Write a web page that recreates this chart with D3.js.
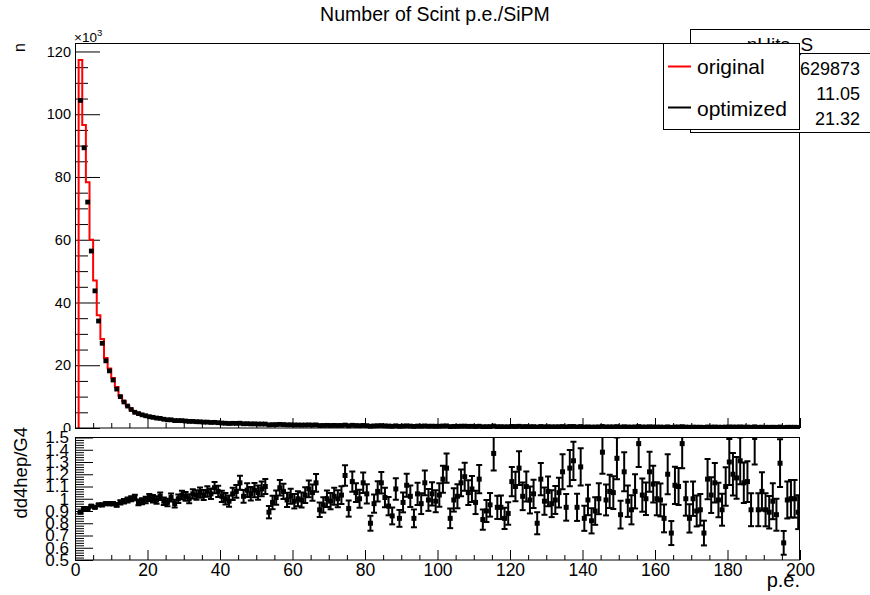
<!DOCTYPE html>
<html><head><meta charset="utf-8">
<script src="https://cdn.jsdelivr.net/npm/d3@7"></script>
<style>body{margin:0;background:#fff}svg{display:block}text{font-family:"Liberation Sans",Arial,Helvetica,sans-serif;fill:#000}</style>
</head><body><svg id="c" width="870" height="595"></svg>
<script>
// ---------------- data ----------------
const title = "Number of Scint p.e./SiPM";
const yTopTitle = "n";
const yBotTitle = "dd4hep/G4";
const xTitle = "p.e.";
const seriesNames = ["original", "optimized"];
const statsTitle = "nHits_S";
const statsValues = ["629873", "11.05", "21.32"];
const topTicks = [0, 20, 40, 60, 80, 100, 120];
const botTicks = [0.5, 0.6, 0.7, 0.8, 0.9, 1, 1.1, 1.2, 1.3, 1.4, 1.5];
const xTicks = [0, 20, 40, 60, 80, 100, 120, 140, 160, 180, 200];

// lower edges of filled bins (width 1), bins 1..199
const binLow = d3.range(1, 200);
// original (G4) counts, in units of 10^3
const original = [117.3, 96.6, 78.3, 60.0, 47.0, 35.9, 28.4, 22.3, 19.0, 15.9,
13.05, 10.3, 8.5, 7.07, 5.9, 4.95, 4.74, 4.29, 3.94, 3.56,
3.40, 3.20, 3.00, 2.85, 2.70, 2.58, 2.46, 2.36, 2.27, 2.18,
2.10, 2.02, 1.95, 1.88, 1.82, 1.76, 1.70, 1.65, 1.60, 1.55,
1.51, 1.47, 1.43, 1.39, 1.35, 1.32, 1.29, 1.26, 1.23, 1.20,
1.17, 1.14, 1.12, 1.10, 1.08, 1.06, 1.04, 1.02, 1.00, 0.98,
0.96, 0.94, 0.92, 0.91, 0.89, 0.88, 0.86, 0.85, 0.84, 0.82,
0.81, 0.80, 0.79, 0.78, 0.77, 0.76, 0.75, 0.74, 0.73, 0.72,
0.71, 0.70, 0.69, 0.68, 0.67, 0.665, 0.655, 0.645, 0.64, 0.63,
0.62, 0.61, 0.605, 0.595, 0.59, 0.58, 0.575, 0.565, 0.56, 0.555,
0.55, 0.54, 0.535, 0.53, 0.52, 0.515, 0.51, 0.505, 0.50, 0.495,
0.49, 0.485, 0.48, 0.475, 0.47, 0.465, 0.46, 0.455, 0.45, 0.445,
0.44, 0.436, 0.432, 0.428, 0.424, 0.42, 0.416, 0.412, 0.408, 0.404,
0.40, 0.396, 0.392, 0.388, 0.384, 0.38, 0.377, 0.374, 0.371, 0.368,
0.365, 0.362, 0.359, 0.356, 0.353, 0.35, 0.347, 0.344, 0.341, 0.338,
0.335, 0.332, 0.33, 0.327, 0.325, 0.322, 0.32, 0.317, 0.315, 0.312,
0.31, 0.308, 0.305, 0.303, 0.301, 0.299, 0.297, 0.295, 0.293, 0.291,
0.289, 0.287, 0.285, 0.283, 0.281, 0.279, 0.277, 0.275, 0.273, 0.271,
0.27, 0.268, 0.266, 0.264, 0.262, 0.261, 0.259, 0.257, 0.256, 0.254,
0.253, 0.251, 0.25, 0.248, 0.247, 0.245, 0.244, 0.243, 0.241];
// optimized (dd4hep) counts, in units of 10^3
const optimized = [104.4, 89.3, 72.0, 56.4, 43.7, 34.1, 27.0, 21.4, 18.2, 15.3,
12.4, 10.0, 8.3, 7.0, 5.9, 5.0, 4.6, 4.2, 3.9, 3.6,
3.40, 3.17, 3.06, 2.79, 2.62, 2.61, 2.36, 2.36, 2.34, 2.22,
2.10, 2.10, 2.01, 1.97, 1.87, 1.87, 1.77, 1.80, 1.70, 1.58,
1.51, 1.44, 1.49, 1.47, 1.53, 1.35, 1.38, 1.31, 1.32, 1.26,
1.26, 1.25, 1.00, 1.07, 1.09, 1.16, 1.10, 1.01, 1.02, 0.96,
0.96, 0.93, 0.95, 0.98, 0.93, 0.99, 0.78, 0.81, 0.84, 0.80,
0.83, 0.80, 0.81, 0.93, 0.71, 0.87, 0.79, 0.74, 0.82, 0.75,
0.57, 0.67, 0.73, 0.77, 0.68, 0.63, 0.56, 0.70, 0.54, 0.61,
0.69, 0.62, 0.51, 0.62, 0.57, 0.66, 0.57, 0.59, 0.55, 0.57,
0.64, 0.68, 0.45, 0.52, 0.53, 0.58, 0.60, 0.53, 0.54, 0.48,
0.57, 0.40, 0.43, 0.45, 0.64, 0.43, 0.43, 0.38, 0.40, 0.51,
0.48, 0.55, 0.44, 0.47, 0.42, 0.44, 0.33, 0.48, 0.40, 0.43,
0.38, 0.39, 0.41, 0.47, 0.36, 0.48, 0.49, 0.35, 0.47, 0.31,
0.36, 0.30, 0.32, 0.36, 0.49, 0.35, 0.37, 0.36, 0.45, 0.29,
0.41, 0.33, 0.30, 0.35, 0.47, 0.33, 0.32, 0.39, 0.35, 0.31,
0.31, 0.26, 0.37, 0.22, 0.33, 0.33, 0.43, 0.30, 0.25, 0.29,
0.26, 0.26, 0.21, 0.33, 0.29, 0.32, 0.27, 0.25, 0.30, 0.35,
0.32, 0.31, 0.35, 0.30, 0.30, 0.24, 0.39, 0.23, 0.27, 0.23,
0.23, 0.25, 0.22, 0.32, 0.16, 0.24, 0.24, 0.24, 0.21];
// ratio dd4hep/G4 per bin
const ratio = [0.89, 0.92, 0.92, 0.94, 0.93, 0.95, 0.95, 0.96, 0.96, 0.96,
0.95, 0.97, 0.98, 0.99, 1.00, 1.01, 0.97, 0.98, 0.99, 1.01,
1.00, 0.99, 1.02, 0.98, 0.97, 1.01, 0.96, 1.00, 1.03, 1.02,
1.00, 1.04, 1.03, 1.05, 1.03, 1.06, 1.04, 1.09, 1.06, 1.02,
1.00, 0.98, 1.04, 1.06, 1.13, 1.02, 1.07, 1.04, 1.07, 1.05,
1.08, 1.10, 0.89, 0.97, 1.01, 1.09, 1.06, 0.99, 1.02, 0.98,
1.00, 0.99, 1.03, 1.08, 1.05, 1.13, 0.91, 0.95, 1.00, 0.98,
1.02, 1.00, 1.03, 1.19, 0.92, 1.14, 1.05, 1.00, 1.13, 1.04,
0.80, 0.96, 1.06, 1.13, 1.01, 0.94, 0.86, 1.08, 0.84, 0.97,
1.11, 1.02, 0.84, 1.04, 0.96, 1.13, 0.99, 1.04, 0.98, 1.03,
1.16, 1.25, 0.84, 0.99, 1.02, 1.13, 1.18, 1.05, 1.08, 0.97,
1.16, 0.83, 0.90, 0.95, 1.37, 0.93, 0.93, 0.84, 0.88, 1.14,
1.10, 1.25, 1.02, 1.10, 0.99, 1.04, 0.80, 1.16, 0.98, 1.06,
0.96, 0.99, 1.05, 1.22, 0.93, 1.25, 1.31, 0.93, 1.26, 0.84,
0.99, 0.82, 0.90, 1.00, 1.38, 0.99, 1.06, 1.05, 1.33, 0.87,
1.22, 0.98, 0.91, 1.06, 1.45, 1.03, 1.00, 1.22, 1.12, 1.00,
0.99, 0.84, 1.20, 0.72, 1.11, 1.10, 1.45, 1.00, 0.84, 1.00,
0.90, 0.91, 0.72, 1.16, 1.03, 1.13, 0.99, 0.91, 1.10, 1.30,
1.20, 1.17, 1.31, 1.13, 1.14, 0.91, 1.50, 0.91, 1.06, 0.91,
0.89, 0.98, 0.87, 1.29, 0.64, 0.99, 1.00, 1.00, 0.89];
// ratio uncertainty per bin
const ratioErr = [0.005, 0.006, 0.007, 0.008, 0.009, 0.010, 0.011, 0.012, 0.013, 0.014,
0.015, 0.017, 0.018, 0.020, 0.021, 0.023, 0.023, 0.025, 0.027, 0.029,
0.030, 0.030, 0.031, 0.031, 0.031, 0.033, 0.032, 0.034, 0.035, 0.036,
0.036, 0.038, 0.039, 0.041, 0.041, 0.043, 0.043, 0.046, 0.046, 0.046,
0.046, 0.046, 0.050, 0.052, 0.057, 0.052, 0.056, 0.055, 0.058, 0.058,
0.060, 0.062, 0.050, 0.055, 0.058, 0.063, 0.062, 0.058, 0.061, 0.059,
0.061, 0.061, 0.064, 0.068, 0.067, 0.073, 0.059, 0.063, 0.067, 0.066,
0.069, 0.069, 0.072, 0.084, 0.066, 0.082, 0.076, 0.073, 0.084, 0.078,
0.061, 0.074, 0.082, 0.088, 0.080, 0.075, 0.069, 0.088, 0.069, 0.081,
0.094, 0.088, 0.073, 0.091, 0.085, 0.101, 0.089, 0.095, 0.090, 0.096,
0.110, 0.119, 0.080, 0.095, 0.098, 0.109, 0.114, 0.102, 0.106, 0.095,
0.115, 0.083, 0.090, 0.096, 0.140, 0.095, 0.096, 0.087, 0.092, 0.120,
0.121, 0.138, 0.113, 0.122, 0.110, 0.116, 0.090, 0.131, 0.111, 0.121,
0.110, 0.114, 0.122, 0.143, 0.109, 0.148, 0.156, 0.111, 0.152, 0.102,
0.124, 0.103, 0.113, 0.126, 0.175, 0.126, 0.135, 0.134, 0.171, 0.113,
0.159, 0.128, 0.119, 0.139, 0.191, 0.136, 0.133, 0.163, 0.150, 0.135,
0.134, 0.114, 0.163, 0.098, 0.152, 0.151, 0.200, 0.138, 0.116, 0.140,
0.126, 0.128, 0.101, 0.164, 0.146, 0.161, 0.141, 0.130, 0.158, 0.188,
0.174, 0.170, 0.191, 0.165, 0.167, 0.134, 0.221, 0.134, 0.157, 0.135,
0.133, 0.147, 0.131, 0.195, 0.097, 0.151, 0.153, 0.154, 0.138];

// ---------------- drawing ----------------
const svg = d3.select("#c");
svg.append("rect").attr("width", 870).attr("height", 595).attr("fill", "#fff");

const X0 = 75, X1 = 800, T0 = 43, T1 = 428, B0 = 437.5, B1 = 560, PADSPLIT = 431;
const x = d3.scaleLinear().domain([0, 200]).range([X0, X1]);
const yTop = d3.scaleLinear().domain([0, 122.7]).range([T1, T0]);
const yBot = d3.scaleLinear().domain([0.5, 1.5]).range([B1, B0]);

const defs = svg.append("defs");
defs.append("clipPath").attr("id", "topFrame").append("rect")
  .attr("x", X0).attr("y", T0).attr("width", X1 - X0).attr("height", T1 - T0 + 1);
defs.append("clipPath").attr("id", "botFrame").append("rect")
  .attr("x", X0).attr("y", B0).attr("width", X1 - X0).attr("height", B1 - B0);
defs.append("clipPath").attr("id", "botPad").append("rect")
  .attr("x", 0).attr("y", PADSPLIT).attr("width", 870).attr("height", 595 - PADSPLIT);

const minorOf = (lo, hi, step, majors) => d3.range(lo, hi + 1e-9, step)
  .map(v => +v.toFixed(4)).filter(v => !majors.some(m => Math.abs(m - v) < 1e-6));

function styleAxis(g, fontSize) {
  g.select(".domain").remove();
  g.selectAll(".tick line").attr("stroke", "#000").attr("stroke-width", 1);
  g.selectAll("text").attr("font-size", fontSize)
    .attr("font-family", '"Liberation Sans",Arial,Helvetica,sans-serif').attr("fill", "#000");
}

// ----- title -----
svg.append("text").attr("x", 435).attr("y", 20.7).attr("text-anchor", "middle")
  .attr("font-size", 19.5).text(title);

// ----- top pad -----
const topG = svg.append("g");
topG.append("g").attr("transform", `translate(${X0},0)`)
  .call(d3.axisLeft(yTop).tickValues(topTicks).tickSizeInner(-25).tickSizeOuter(0).tickPadding(4).tickFormat(d3.format("d")))
  .call(g => styleAxis(g, 14.5));
topG.append("g").attr("transform", `translate(${X0},0)`)
  .call(d3.axisLeft(yTop).tickValues(minorOf(0, 122, 5, topTicks)).tickSizeInner(-13).tickSizeOuter(0).tickFormat(""))
  .call(g => styleAxis(g, 0));
topG.append("g").attr("transform", `translate(0,${T1})`)
  .call(d3.axisBottom(x).tickValues(xTicks).tickSizeInner(-10).tickSizeOuter(0).tickFormat(""))
  .call(g => styleAxis(g, 0));
topG.append("g").attr("transform", `translate(0,${T1})`)
  .call(d3.axisBottom(x).tickValues(minorOf(0, 200, 5, xTicks)).tickSizeInner(-5).tickSizeOuter(0).tickFormat(""))
  .call(g => styleAxis(g, 0));
const exp = topG.append("text").attr("x", X0 - 1).attr("y", 41.5).attr("font-size", 13.5);
exp.append("tspan").text("\u00d710");
exp.append("tspan").attr("dy", -6).attr("font-size", 9.5).text("3");
topG.append("text").attr("transform", `translate(25,${T0}) rotate(-90)`)
  .attr("text-anchor", "end").attr("font-size", 16).text(yTopTitle);

const plotTop = topG.append("g").attr("clip-path", "url(#topFrame)");
const stepPts = [[binLow[0], 0]].concat(binLow.map((b, i) => [b, original[i]]))
  .concat([[binLow[binLow.length - 1] + 1, original[original.length - 1]], [binLow[binLow.length - 1] + 1, 0]]);
plotTop.append("path").datum(stepPts)
  .attr("d", d3.line().x(d => x(d[0])).y(d => yTop(d[1])).curve(d3.curveStepAfter))
  .attr("fill", "none").attr("stroke", "#ff0000").attr("stroke-width", 2);
const optData = binLow.map((b, i) => ({ b, v: optimized[i] }));
plotTop.append("g").selectAll("line").data(optData).join("line")
  .attr("x1", d => x(d.b)).attr("x2", d => x(d.b + 1))
  .attr("y1", d => yTop(d.v)).attr("y2", d => yTop(d.v))
  .attr("stroke", "#000").attr("stroke-width", 1.5);
plotTop.append("g").selectAll("rect").data(optData).join("rect")
  .attr("x", d => x(d.b + 0.5) - 2.4).attr("y", d => yTop(d.v) - 2.4)
  .attr("width", 4.8).attr("height", 4.8).attr("fill", "#000");
topG.append("rect").attr("x", X0 + 0.5).attr("y", T0 + 0.5).attr("width", X1 - X0 - 1).attr("height", T1 - T0 - 0.5)
  .attr("fill", "none").attr("stroke", "#000").attr("stroke-width", 1);

// ----- bottom pad -----
svg.append("rect").attr("x", 0).attr("y", PADSPLIT).attr("width", 870).attr("height", 595 - PADSPLIT).attr("fill", "#fff");
const botG = svg.append("g").attr("clip-path", "url(#botPad)");
botG.append("g").attr("transform", `translate(${X0},0)`)
  .call(d3.axisLeft(yBot).tickValues(botTicks).tickSizeInner(-18).tickSizeOuter(0).tickPadding(6).tickFormat(d => d3.format("")(d)))
  .call(g => styleAxis(g, 17));
botG.append("g").attr("transform", `translate(${X0},0)`)
  .call(d3.axisLeft(yBot).tickValues(minorOf(0.5, 1.5, 0.02, botTicks)).tickSizeInner(-9).tickSizeOuter(0).tickFormat(""))
  .call(g => styleAxis(g, 0));
botG.append("g").attr("transform", `translate(0,${B1})`)
  .call(d3.axisBottom(x).tickValues(xTicks).tickSizeInner(-10).tickSizeOuter(0).tickPadding(3.5).tickFormat(d3.format("d")))
  .call(g => styleAxis(g, 17.5));
botG.append("g").attr("transform", `translate(0,${B1})`)
  .call(d3.axisBottom(x).tickValues(minorOf(0, 200, 5, xTicks)).tickSizeInner(-5).tickSizeOuter(0).tickFormat(""))
  .call(g => styleAxis(g, 0));

const plotBot = botG.append("g").attr("clip-path", "url(#botFrame)");
const rData = binLow.map((b, i) => ({ b, r: ratio[i], e: ratioErr[i] }));
const eb = plotBot.append("g").attr("stroke", "#000").attr("stroke-width", 2);
eb.selectAll("line.v").data(rData).join("line").attr("class", "v")
  .attr("x1", d => x(d.b + 0.5)).attr("x2", d => x(d.b + 0.5))
  .attr("y1", d => yBot(d.r - d.e)).attr("y2", d => yBot(d.r + d.e));
eb.selectAll("line.h").data(rData).join("line").attr("class", "h")
  .attr("x1", d => x(d.b)).attr("x2", d => x(d.b + 1))
  .attr("y1", d => yBot(d.r)).attr("y2", d => yBot(d.r));
eb.selectAll("line.cu").data(rData).join("line").attr("class", "cu")
  .attr("x1", d => x(d.b + 0.5) - 3).attr("x2", d => x(d.b + 0.5) + 3)
  .attr("y1", d => yBot(d.r + d.e)).attr("y2", d => yBot(d.r + d.e));
eb.selectAll("line.cd").data(rData).join("line").attr("class", "cd")
  .attr("x1", d => x(d.b + 0.5) - 3).attr("x2", d => x(d.b + 0.5) + 3)
  .attr("y1", d => yBot(d.r - d.e)).attr("y2", d => yBot(d.r - d.e));
plotBot.append("g").selectAll("rect").data(rData).join("rect")
  .attr("x", d => x(d.b + 0.5) - 2.5).attr("y", d => yBot(d.r) - 2.5)
  .attr("width", 5).attr("height", 5).attr("fill", "#000");
botG.append("rect").attr("x", X0 + 0.5).attr("y", B0).attr("width", X1 - X0 - 1).attr("height", B1 - B0)
  .attr("fill", "none").attr("stroke", "#000").attr("stroke-width", 1);
svg.append("text").attr("transform", `translate(27,427) rotate(-90)`)
  .attr("text-anchor", "end").attr("font-size", 18.5).text(yBotTitle);
svg.append("text").attr("x", X1).attr("y", 587).attr("text-anchor", "end")
  .attr("font-size", 20).text(xTitle);

// ----- stats box -----
const st = svg.append("g");
st.append("rect").attr("x", 690.5).attr("y", 29.5).attr("width", 200).attr("height", 103)
  .attr("fill", "#fff").attr("stroke", "#000");
st.append("line").attr("x1", 690.5).attr("x2", 870).attr("y1", 53.5).attr("y2", 53.5).attr("stroke", "#000");
st.append("text").attr("x", 780).attr("y", 50.5).attr("text-anchor", "middle").attr("font-size", 19).text(statsTitle);
statsValues.forEach((v, i) => {
  st.append("text").attr("x", 860).attr("y", 75 + i * 25).attr("text-anchor", "end").attr("font-size", 18).text(v);
});

// ----- legend -----
const lg = svg.append("g");
lg.append("rect").attr("x", 663.5).attr("y", 43.5).attr("width", 136).attr("height", 86)
  .attr("fill", "#fff").attr("stroke", "#000");
const legColors = ["#ff0000", "#000000"];
const legY = [66.5, 107.5];
const legBase = [74, 115.5];
seriesNames.forEach((n, i) => {
  lg.append("line").attr("x1", 668).attr("x2", 691).attr("y1", legY[i]).attr("y2", legY[i])
    .attr("stroke", legColors[i]).attr("stroke-width", 2);
  lg.append("text").attr("x", 697).attr("y", legBase[i]).attr("font-size", 21).text(n);
});
</script></body></html>
